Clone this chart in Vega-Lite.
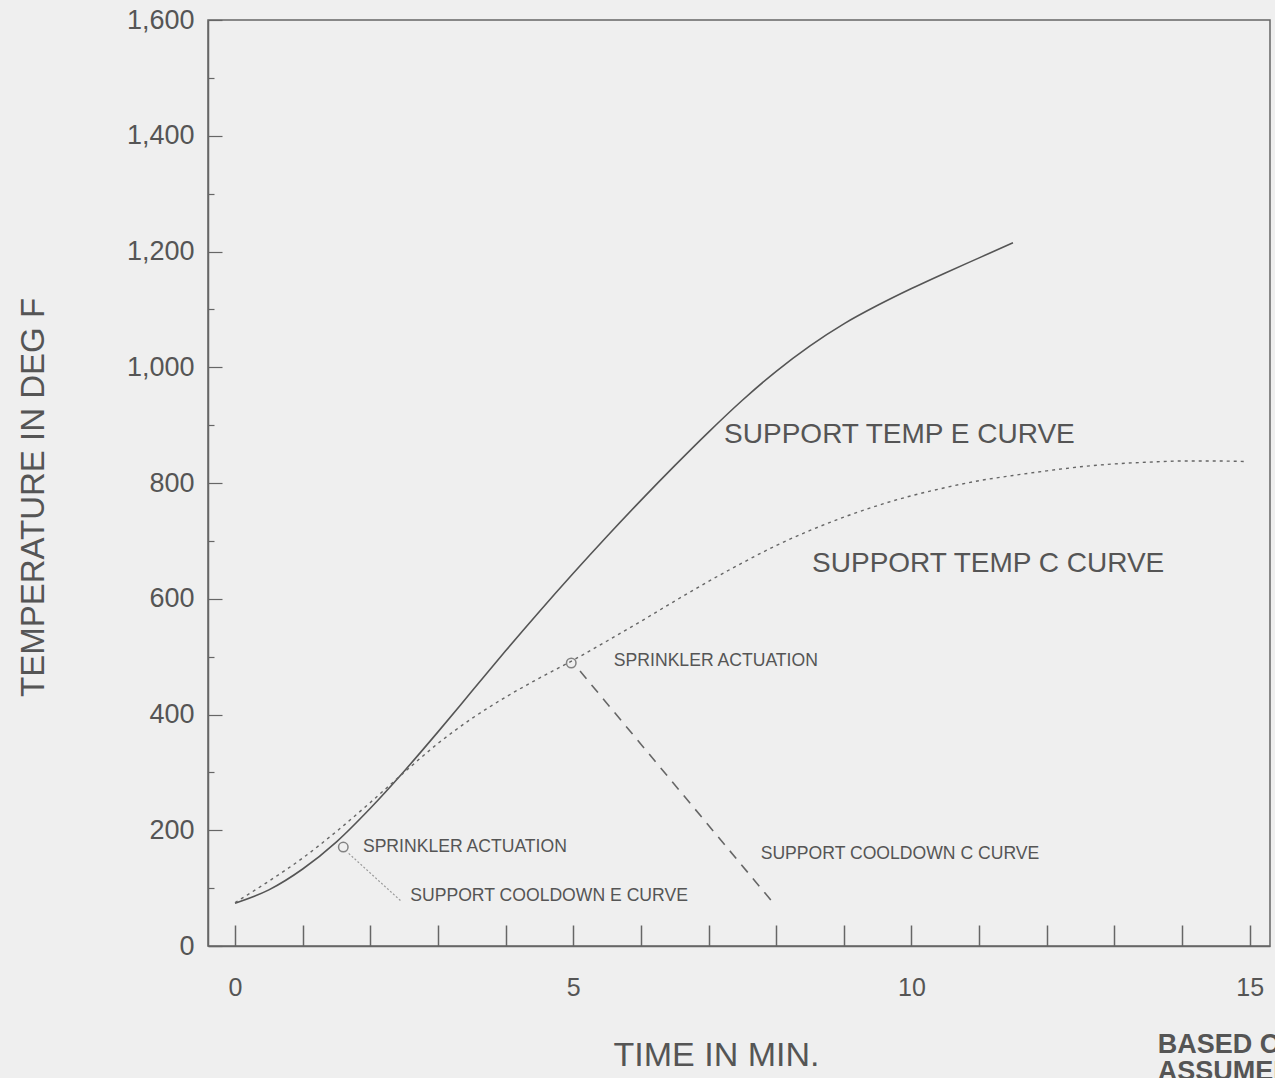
{
  "$schema": "https://vega.github.io/schema/vega-lite/v6.json",
  "width": 1062,
  "height": 926,
  "autosize": "none",
  "padding": {"left": 208, "top": 20, "right": 5, "bottom": 132},
  "background": "#efefef",
  "config": {
    "view": {"stroke": "#666666", "strokeWidth": 1.5},
    "font": "Liberation Sans",
    "axis": {"grid": false, "domainColor": "#666666", "tickColor": "#666666", "labelColor": "#555555", "titleColor": "#555555", "labelFont": "Liberation Sans", "titleFont": "Liberation Sans", "titleFontWeight": "normal"}
  },
  "datasets": {
    "curveE": [
      {"t": 0, "temp": 74}, {"t": 0.5, "temp": 97}, {"t": 1, "temp": 133}, {"t": 1.5, "temp": 180},
      {"t": 2, "temp": 238}, {"t": 2.5, "temp": 302}, {"t": 3, "temp": 370}, {"t": 3.5, "temp": 440},
      {"t": 4, "temp": 510}, {"t": 4.5, "temp": 578}, {"t": 5, "temp": 644}, {"t": 5.5, "temp": 708},
      {"t": 6, "temp": 770}, {"t": 6.5, "temp": 830}, {"t": 7, "temp": 888}, {"t": 7.5, "temp": 943},
      {"t": 8, "temp": 993}, {"t": 8.5, "temp": 1037}, {"t": 9, "temp": 1075}, {"t": 9.5, "temp": 1107},
      {"t": 10, "temp": 1136}, {"t": 10.5, "temp": 1163}, {"t": 11, "temp": 1189}, {"t": 11.5, "temp": 1215}
    ],
    "curveC": [
      {"t": 0, "temp": 75}, {"t": 0.5, "temp": 112}, {"t": 1, "temp": 152}, {"t": 1.5, "temp": 198},
      {"t": 2, "temp": 248}, {"t": 2.5, "temp": 300}, {"t": 3, "temp": 350}, {"t": 3.5, "temp": 393},
      {"t": 4, "temp": 430}, {"t": 4.5, "temp": 463}, {"t": 5, "temp": 494}, {"t": 5.5, "temp": 527},
      {"t": 6, "temp": 561}, {"t": 6.5, "temp": 596}, {"t": 7, "temp": 630}, {"t": 7.5, "temp": 662},
      {"t": 8, "temp": 692}, {"t": 8.5, "temp": 718}, {"t": 9, "temp": 741}, {"t": 9.5, "temp": 761},
      {"t": 10, "temp": 778}, {"t": 10.5, "temp": 792}, {"t": 11, "temp": 804}, {"t": 11.5, "temp": 813},
      {"t": 12, "temp": 821}, {"t": 12.5, "temp": 828}, {"t": 13, "temp": 833}, {"t": 13.5, "temp": 836},
      {"t": 14, "temp": 838}, {"t": 14.5, "temp": 838}, {"t": 14.97, "temp": 837}
    ],
    "cooldownE": [{"t": 1.68, "temp": 160}, {"t": 2.45, "temp": 78}],
    "cooldownC": [{"t": 5.1, "temp": 475}, {"t": 7.98, "temp": 71}],
    "actuation": [{"t": 1.6, "temp": 171}, {"t": 4.97, "temp": 489}],
    "curveLabels": [
      {"t": 7.23, "temp": 883, "label": "SUPPORT TEMP E CURVE"},
      {"t": 8.53, "temp": 660, "label": "SUPPORT TEMP C CURVE"}
    ],
    "noteLabels": [
      {"t": 5.6, "temp": 492, "label": "SPRINKLER ACTUATION"},
      {"t": 1.89, "temp": 171, "label": "SPRINKLER ACTUATION"},
      {"t": 2.59, "temp": 86, "label": "SUPPORT COOLDOWN E CURVE"},
      {"t": 7.77, "temp": 159, "label": "SUPPORT COOLDOWN C CURVE"}
    ],
    "footLabels": [
      {"t": 13.64, "temp": -171, "label": "BASED ON"},
      {"t": 13.64, "temp": -218, "label": "ASSUMED"}
    ]
  },
  "layer": [
    {
      "data": {"name": "curveE"},
      "mark": {"type": "line", "interpolate": "monotone", "color": "#555555", "strokeWidth": 1.6},
      "encoding": {
        "x": {"field": "t", "type": "quantitative", "scale": {"domain": [-0.4, 15.3], "nice": false, "zero": false},
          "axis": {"values": [0,1,2,3,4,5,6,7,8,9,10,11,12,13,14,15], "format": "d", "labelExpr": "datum.value % 5 === 0 ? datum.label : ''", "tickSize": -21, "tickWidth": 1.5, "labelPadding": 50, "labelFontSize": 25, "title": "TIME IN MIN.", "titleFontSize": 34, "titleX": 508, "titleY": 109, "titleBaseline": "middle", "titleAnchor": "start", "titleAlign": "center", "domainWidth": 1.5}},
        "y": {"field": "temp", "type": "quantitative", "scale": {"domain": [0, 1600], "nice": false},
          "axis": {"orient": "left", "values": [0,100,200,300,400,500,600,700,800,900,1000,1100,1200,1300,1400,1500,1600], "format": ",d", "labelExpr": "datum.value % 200 === 0 ? datum.label : ''", "tickSize": {"condition": {"test": "datum.value % 200 === 0", "value": -14}, "value": -6}, "tickWidth": 1.2, "labelPadding": 28, "labelFontSize": 27, "title": "TEMPERATURE IN DEG F", "titleFontSize": 33, "titleX": -175, "titleY": 477, "titleBaseline": "middle", "titleAlign": "center", "titleAngle": -90, "domainWidth": 1.5}}
      }
    },
    {
      "data": {"name": "curveC"},
      "mark": {"type": "line", "interpolate": "monotone", "color": "#666666", "strokeWidth": 1.4, "strokeDash": [3, 4]},
      "encoding": {
        "x": {"field": "t", "type": "quantitative"},
        "y": {"field": "temp", "type": "quantitative"}
      }
    },
    {
      "data": {"name": "cooldownE"},
      "mark": {"type": "line", "color": "#9a9a9a", "strokeWidth": 1.2, "strokeDash": [2, 2]},
      "encoding": {"x": {"field": "t", "type": "quantitative"}, "y": {"field": "temp", "type": "quantitative"}}
    },
    {
      "data": {"name": "cooldownC"},
      "mark": {"type": "line", "color": "#666666", "strokeWidth": 1.6, "strokeDash": [10, 8]},
      "encoding": {"x": {"field": "t", "type": "quantitative"}, "y": {"field": "temp", "type": "quantitative"}}
    },
    {
      "data": {"name": "actuation"},
      "mark": {"type": "point", "shape": "circle", "filled": false, "color": "#555555", "strokeWidth": 1.5, "size": 90},
      "encoding": {"x": {"field": "t", "type": "quantitative"}, "y": {"field": "temp", "type": "quantitative"}}
    },
    {
      "data": {"name": "curveLabels"},
      "mark": {"type": "text", "align": "left", "baseline": "middle", "fontSize": 28, "color": "#555555", "font": "Liberation Sans"},
      "encoding": {"x": {"field": "t", "type": "quantitative"}, "y": {"field": "temp", "type": "quantitative"}, "text": {"field": "label"}}
    },
    {
      "data": {"name": "noteLabels"},
      "mark": {"type": "text", "align": "left", "baseline": "middle", "fontSize": 17.6, "color": "#555555", "font": "Liberation Sans"},
      "encoding": {"x": {"field": "t", "type": "quantitative"}, "y": {"field": "temp", "type": "quantitative"}, "text": {"field": "label"}}
    },
    {
      "data": {"name": "footLabels"},
      "mark": {"type": "text", "align": "left", "baseline": "middle", "fontSize": 27, "fontWeight": "bold", "color": "#555555", "font": "Liberation Sans", "clip": false},
      "encoding": {"x": {"field": "t", "type": "quantitative"}, "y": {"field": "temp", "type": "quantitative"}, "text": {"field": "label"}}
    }
  ]
}
